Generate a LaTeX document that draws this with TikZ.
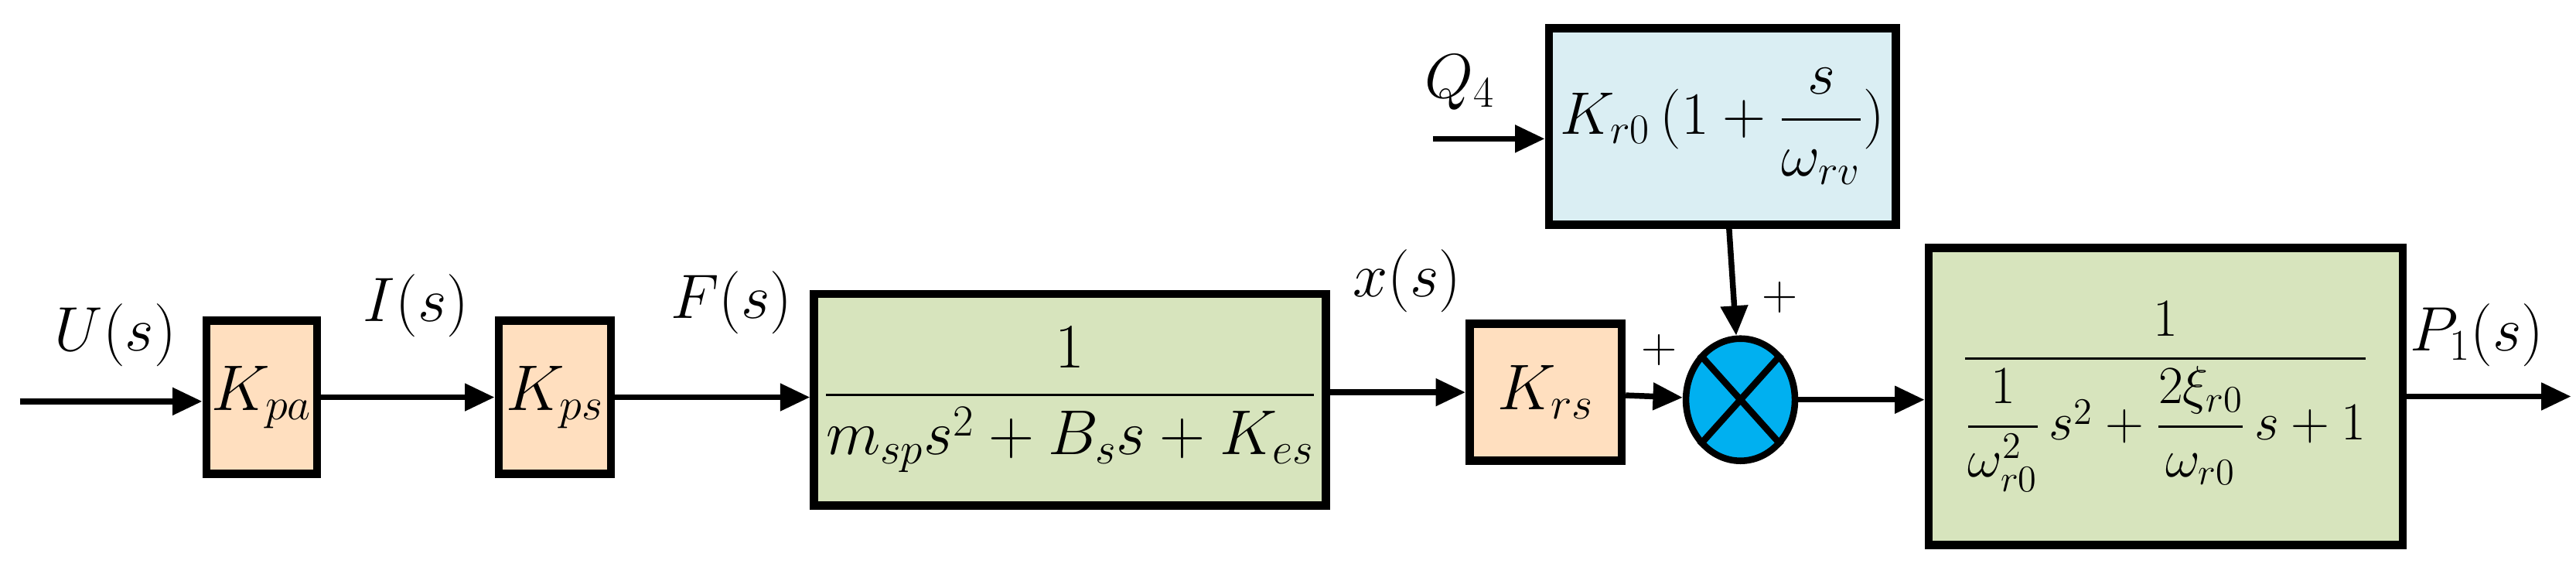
\documentclass[tikz,border=0pt]{standalone}
\usepackage{fix-cm}
\usepackage{amsmath}
\usepackage{graphicx}
\usetikzlibrary{arrows.meta,shapes.geometric}
\begin{document}
\begin{tikzpicture}[x=1pt,y=-1pt,
 blk/.style={draw=black,line width=5pt,inner sep=0pt},
 org/.style={blk,fill=orange!25!white},
 grn/.style={blk,fill={rgb,255:red,215;green,228;blue,189}},
 blu/.style={blk,fill={rgb,255:red,218;green,238;blue,243}},
 arr/.style={line width=3.5pt,-{Triangle[length=18pt,width=16pt]}},
 lbl/.style={font=\fontsize{38}{40}\selectfont},
 pl/.style={font=\fontsize{30}{32}\selectfont}]
\useasboundingbox (0,0) rectangle (1560,347.5);
\node[org,minimum width=67pt,minimum height=93pt,font=\fontsize{34}{36}\selectfont] (kpa) at (158.5,240.5) {\scalebox{1.15}{$K_{pa}$}};
\node[org,minimum width=68pt,minimum height=93pt,font=\fontsize{34}{36}\selectfont] (kps) at (336,240.5) {\scalebox{1.15}{$K_{ps}$}};
\node[grn,minimum width=310pt,minimum height=128pt,font=\fontsize{28}{30}\selectfont] (g1) at (648,242) {\scalebox{1.37}{$\dfrac{1}{\rule{0pt}{14pt}m_{sp}s^2+B_s s+K_{es}}$}};
\node[org,minimum width=92pt,minimum height=83pt,font=\fontsize{34}{36}\selectfont] (krs) at (936,237.5) {\scalebox{1.15}{$K_{rs}$}};
\node[draw=black,line width=4pt,ellipse,fill={rgb,255:red,0;green,176;blue,240},minimum width=66pt,minimum height=74pt,inner sep=0pt] (sum) at (1054,242) {};
\draw[line width=4pt] (sum.north west) -- (sum.south east) (sum.north east) -- (sum.south west);
\node[blu,minimum width=210pt,minimum height=119pt,font=\fontsize{28}{30}\selectfont] (top) at (1043,76.5) {\scalebox{1.3}{$K_{r0}\,(1+\dfrac{s}{\rule{0pt}{10pt}\omega_{rv}})$}};
\node[grn,minimum width=287pt,minimum height=180pt,font=\fontsize{24}{26}\selectfont] (g2) at (1311.5,240) {\scalebox{1.35}{$\dfrac{1}{\rule{0pt}{16pt}\dfrac{1}{\omega_{r0}^2}\,s^2+\dfrac{2\xi_{r0}}{\omega_{r0}}\,s+1}$}};
\coordinate (in) at (12,243);
\coordinate (q) at (868,84);
\coordinate (out) at (1557,240);
\draw[arr] (in) -- (in -| kpa.west);
\draw[arr] (kpa) -- (kps);
\draw[arr] (kps.east) -- (kps.east -| g1.west);
\draw[arr] (g1.east |- krs) -- (krs);
\draw[arr] (krs) -- (sum);
\draw[arr] (top) -- (sum);
\draw[arr] (sum) -- (sum -| g2.west);
\draw[arr] (g2.east |- out) -- (out);
\draw[arr] (q) -- (q -| top.west);
\node[lbl] (u) at (70,203) {$U(s)$};
\node[lbl] (i) at (252,185) {$I(s)$};
\node[lbl] (f) at (443,183) {$F(s)$};
\node[lbl] (x) at (852,170) {$x(s)$};
\node[lbl] (p) at (1500,203) {$P_{\scriptstyle 1}(s)$};
\node[lbl] (q4) at (884,50) {$Q_4$};
\node[pl] (p1) at (1078,180) {$+$};
\node[pl] (p2) at (1005,212) {$+$};
\end{tikzpicture}
\end{document}
